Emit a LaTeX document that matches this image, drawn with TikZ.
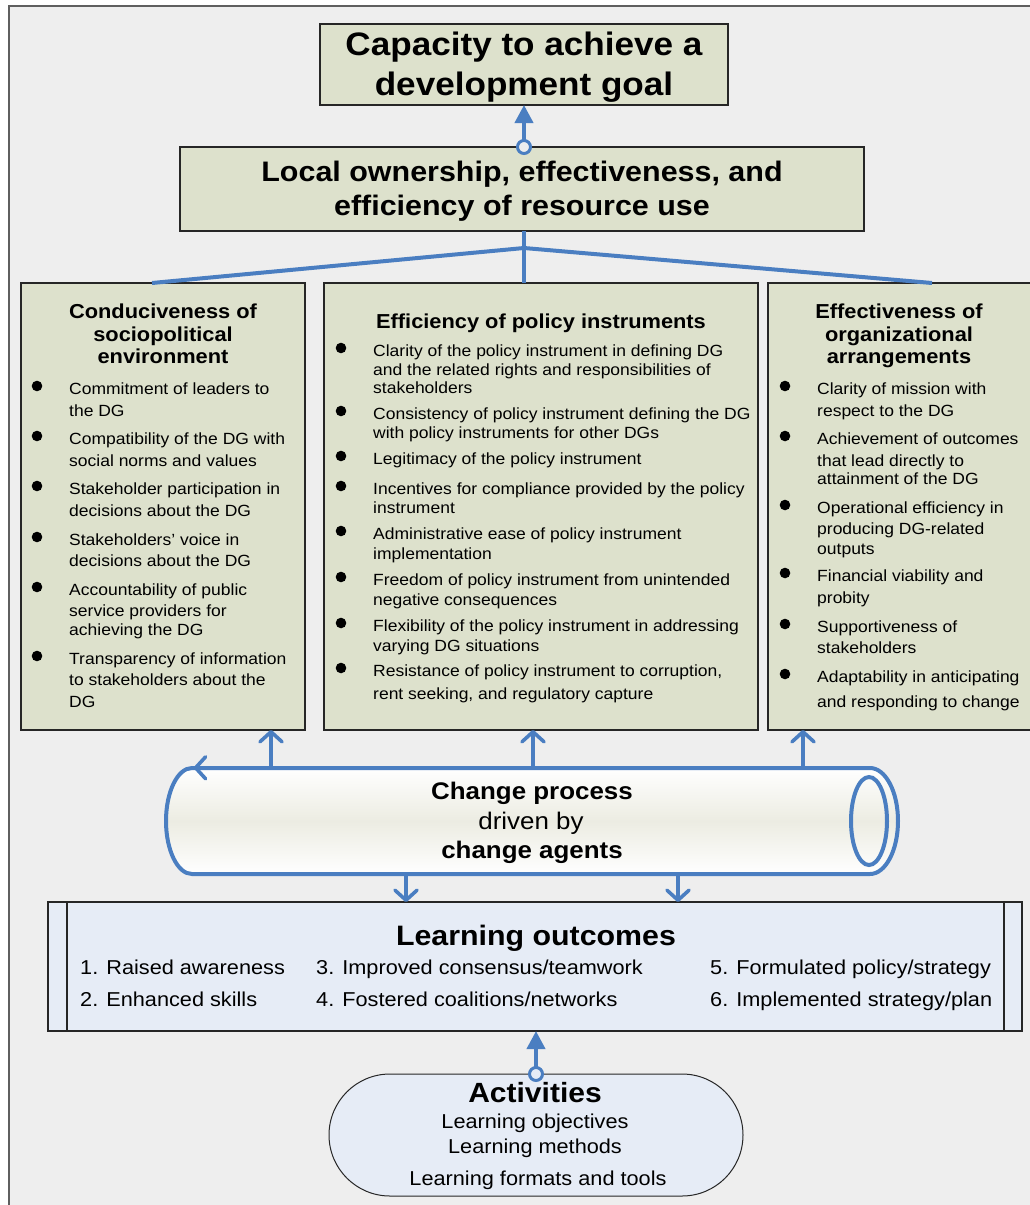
\documentclass[tikz,border=0pt]{standalone}
\usepackage{fontspec}
\setmainfont{Liberation Sans}[FakeStretch=1.08]
\usetikzlibrary{arrows.meta}
\definecolor{bgc}{RGB}{238,238,238}
\definecolor{olive}{RGB}{221,225,204}
\definecolor{lblue}{RGB}{230,236,246}
\definecolor{cblue}{RGB}{74,126,193}
\definecolor{framec}{RGB}{95,95,95}
\definecolor{cylmid}{RGB}{236,236,226}
\newcommand\fsz[1]{\fontsize{#1}{#1}\selectfont}
\begin{document}
\begin{tikzpicture}[x=1pt,y=-1pt,
  box/.style={rectangle, draw=black!85, line width=1.2pt, fill=olive, inner sep=0pt, outer sep=0pt},
  conn/.style={draw=cblue, line width=4pt},
  barb/.style={-{Straight Barb[length=10pt,width=22pt,line width=3.6pt,round]}},
  tri/.style={-{Triangle[length=18pt,width=18pt]}},
  ringc/.style={draw=cblue, line width=3pt},
  hA/.style={inner sep=0pt, anchor=base, font=\bfseries\fsz{32.5}},
  hB/.style={inner sep=0pt, anchor=base, font=\bfseries\fsz{28.2}},
  colt/.style={inner sep=0pt, anchor=base, font=\bfseries\fsz{20.2}},
  itm/.style={inner sep=0pt, anchor=base west, font=\fsz{16.2}},
  cpb/.style={inner sep=0pt, anchor=base, font=\bfseries\fsz{24}},
  cpr/.style={inner sep=0pt, anchor=base, font=\fsz{24}},
  lot/.style={inner sep=0pt, anchor=base, font=\bfseries\fsz{28.1}},
  loi/.style={inner sep=0pt, anchor=base west, font=\fsz{20.1}},
  acth/.style={inner sep=0pt, anchor=base, font=\bfseries\fsz{27.8}},
  acti/.style={inner sep=0pt, anchor=base, font=\fsz{20.1}},
]
\useasboundingbox (0,0) rectangle (1029,1205);
% background frame
\fill[bgc] (9,6) rectangle (1045,1215);
\draw[framec, line width=1.6pt] (9,1215) -- (9,6) -- (1045,6);

% boxes
\node[box, minimum width=408pt, minimum height=81pt] (b1) at (524,64.5) {};
\node[box, minimum width=684pt, minimum height=84pt] (b2) at (522,189) {};
\node[box, minimum width=284pt, minimum height=447pt] (cb1) at (163,506.5) {};
\node[box, minimum width=434pt, minimum height=447pt] (cb2) at (541,506.5) {};
\node[box, minimum width=270pt, minimum height=447pt] (cb3) at (903,506.5) {};
\node[box, fill=lblue, minimum width=974pt, minimum height=129pt] (lo) at (535,966.5) {};
\draw[black!85, line width=1.2pt] ([xshift=19pt]lo.north west) -- ([xshift=19pt]lo.south west);
\draw[black!85, line width=1.2pt] ([xshift=-18pt]lo.north east) -- ([xshift=-18pt]lo.south east);
\node[box, fill=lblue, line width=1pt, rounded corners=61pt, minimum width=414pt, minimum height=122pt] (act) at (536,1135) {};

% cylinder
\node[inner sep=0pt, minimum width=732pt, minimum height=106pt] (cp) at (532,821) {};
\shade[top color=white, bottom color=white, middle color=cylmid]
  (192,768) .. controls (177.6,768) and (166,791.7) .. (166,821)
  .. controls (166,850.3) and (177.6,874) .. (192,874) -- (870,874)
  .. controls (885.5,874) and (898,850.3) .. (898,821)
  .. controls (898,791.7) and (885.5,768) .. (870,768) -- cycle;
\draw[conn]
  (192,768) .. controls (177.6,768) and (166,791.7) .. (166,821)
  .. controls (166,850.3) and (177.6,874) .. (192,874) -- (870,874)
  .. controls (885.5,874) and (898,850.3) .. (898,821)
  .. controls (898,791.7) and (885.5,768) .. (870,768) -- cycle;
\draw[conn] (869,821) ellipse [x radius=18, y radius=44];
\draw[conn, barb] ([xshift=80pt]cp.north west) -- ([xshift=28pt]cp.north west);

% texts top
\node[hA] (t1a) at (524,55) {Capacity to achieve a};
\node[hA] (t1b) at (524,95) {development goal};
\node[hB] (t2a) at (522,181) {Local ownership, effectiveness, and};
\node[hB] (t2b) at (522,215) {efficiency of resource use};

% column titles
\node[colt] (c1a) at (163,318) {Conduciveness of};
\node[colt] (c1b) at (163,341) {sociopolitical};
\node[colt] (c1c) at (163,363) {environment};
\node[colt] (c2a) at (541,328) {Efficiency of policy instruments};
\node[colt] (c3a) at (899,318) {Effectiveness of};
\node[colt] (c3b) at (899,341) {organizational};
\node[colt] (c3c) at (899,363) {arrangements};

% left items
\foreach \yy/\txt [count=\k] in {394/{Commitment of leaders to}, 416/{the DG},
  444/{Compatibility of the DG with}, 466/{social norms and values},
  494/{Stakeholder participation in}, 516/{decisions about the DG},
  545/{Stakeholders’ voice in}, 566/{decisions about the DG},
  595/{Accountability of public}, 616/{service providers for}, 635/{achieving the DG},
  664/{Transparency of information}, 685/{to stakeholders about the}, 707/{DG}}
  {\node[itm] (li\k) at (69,\yy) {\txt};}
\foreach \yy in {386,436,486,537,587,656} {\fill (37,\yy) circle[radius=5.3pt];}

% middle items
\foreach \yy/\txt [count=\k] in {356/{Clarity of the policy instrument in defining DG},
  375/{and the related rights and responsibilities of}, 393/{stakeholders},
  419/{Consistency of policy instrument defining the DG}, 438/{with policy instruments for other DGs},
  464/{Legitimacy of the policy instrument},
  494/{Incentives for compliance provided by the policy}, 513/{instrument},
  539/{Administrative ease of policy instrument}, 559/{implementation},
  585/{Freedom of policy instrument from unintended}, 605/{negative consequences},
  631/{Flexibility of the policy instrument in addressing}, 651/{varying DG situations},
  676/{Resistance of policy instrument to corruption,}, 699/{rent seeking, and regulatory capture}}
  {\node[itm] (mi\k) at (373,\yy) {\txt};}
\foreach \yy in {348,411,456,486,531,577,623,668} {\fill (341,\yy) circle[radius=5.3pt];}

% right items
\foreach \yy/\txt [count=\k] in {394/{Clarity of mission with}, 416/{respect to the DG},
  444/{Achievement of outcomes}, 466/{that lead directly to}, 484/{attainment of the DG},
  513/{Operational efficiency in}, 534/{producing DG-related}, 554/{outputs},
  581/{Financial viability and}, 603/{probity},
  632/{Supportiveness of}, 653/{stakeholders},
  682/{Adaptability in anticipating}, 707/{and responding to change}}
  {\node[itm] (ri\k) at (817,\yy) {\txt};}
\foreach \yy in {386,436,505,573,624,674} {\fill (785,\yy) circle[radius=5.3pt];}

% change process text
\node[cpb] (cpt1) at (532,799) {Change process};
\node[cpr] (cpt2) at (531,829) {driven by};
\node[cpb] (cpt3) at (532,858) {change agents};

% learning outcomes text
\node[lot] (lot1) at (536,945) {Learning outcomes};
\node[loi] (lo1) at (80,974) {1. Raised awareness};
\node[loi] (lo2) at (80,1006) {2. Enhanced skills};
\node[loi] (lo3) at (316,974) {3. Improved consensus/teamwork};
\node[loi] (lo4) at (316,1006) {4. Fostered coalitions/networks};
\node[loi] (lo5) at (710,974) {5. Formulated policy/strategy};
\node[loi] (lo6) at (710,1006) {6. Implemented strategy/plan};

% activities text
\node[acth] (ac1) at (535,1102) {Activities};
\node[acti] (ac2) at (535,1128) {Learning objectives};
\node[acti] (ac3) at (535,1153) {Learning methods};
\node[acti] (ac4) at (538,1185) {Learning formats and tools};

% connectors
\coordinate (c12) at (b1.south |- b2.north);
\draw[conn, tri] ([yshift=6.5pt]c12) -- (b1.south);
\draw[ringc, fill=bgc] (c12) circle[radius=6.5pt];

\coordinate (j) at (524,248);
\draw[conn] (j |- b2.south) -- (j |- cb2.north);
\draw[conn] (j) -- (152,0 |- cb1.north);
\draw[conn] (j) -- (932,0 |- cb3.north);

\draw[conn, barb] (271,0 |- cp.north) -- (271,0 |- cb1.south);
\draw[conn, barb] (533,0 |- cp.north) -- (533,0 |- cb2.south);
\draw[conn, barb] (803,0 |- cp.north) -- (803,0 |- cb3.south);
\draw[conn, barb] (406,0 |- cp.south) -- (406,0 |- lo.north);
\draw[conn, barb] (678,0 |- cp.south) -- (678,0 |- lo.north);

\coordinate (ca) at (act.north |- act.north);
\draw[conn, tri] ([yshift=6.5pt]ca) -- (ca |- lo.south);
\draw[ringc, fill=lblue] (ca) circle[radius=6.5pt];
\end{tikzpicture}
\end{document}
